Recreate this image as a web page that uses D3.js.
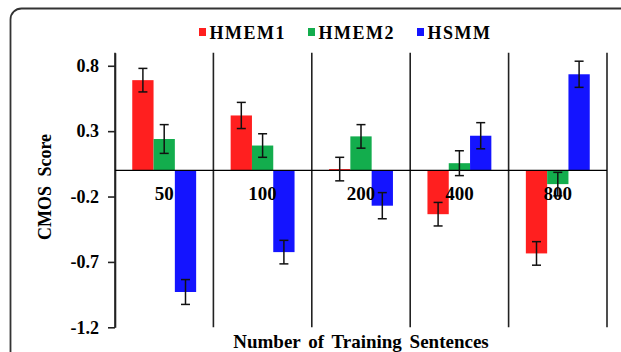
<!DOCTYPE html>
<html>
<head>
<meta charset="utf-8">
<script src="https://cdn.jsdelivr.net/npm/d3@7"></script>
<style>
  html, body { margin: 0; padding: 0; background: #fff; }
  svg { display: block; }
  text { font-family: "Liberation Serif", "Times New Roman", serif; font-weight: bold; fill: #000; }
</style>
</head>
<body>
<svg id="chart" width="621" height="352"></svg>
<script>
// Training-set sizes on the category axis
const categories = ["50", "100", "200", "400", "800"];
const seriesNames = ["HMEM1", "HMEM2", "HSMM"];
const seriesColors = ["#ff1f1f", "#13ad4d", "#1414ff"];

// Mean CMOS score for each system, per training-set size
const hmem1 = [0.69, 0.42, 0.01, -0.335, -0.635];
const hmem2 = [0.24, 0.19, 0.26, 0.055, -0.105];
const hsmm  = [-0.93, -0.625, -0.27, 0.265, 0.735];

// Half-width of the error bars
const hmem1Err = [0.09, 0.10, 0.09, 0.09, 0.09];
const hmem2Err = [0.11, 0.09, 0.09, 0.095, 0.09];
const hsmmErr  = [0.095, 0.09, 0.10, 0.10, 0.10];

const yTicks = [0.8, 0.3, -0.2, -0.7, -1.2];
const yDomain = [-1.2, 0.9];

const seriesValues = [hmem1, hmem2, hsmm];
const seriesErrors = [hmem1Err, hmem2Err, hsmmErr];

const svg = d3.select("#chart");
const plot = { left: 115, right: 607, top: 52.7, bottom: 327.3 };

// Outer rounded frame
svg.append("rect")
  .attr("x", 10.5).attr("y", 8.5)
  .attr("width", 660).attr("height", 400)
  .attr("rx", 11).attr("ry", 11)
  .attr("fill", "none").attr("stroke", "#333").attr("stroke-width", 1.8);

const x0 = d3.scaleBand().domain(categories).range([plot.left, plot.right]).padding(0);
const x1 = d3.scaleBand().domain(seriesNames).range([0, x0.bandwidth()])
  .paddingInner(0).paddingOuter(0.81);
const y = d3.scaleLinear().domain(yDomain).range([plot.bottom, plot.top]);

// Category separators
const bounds = categories.map(c => x0(c)).concat([plot.right]);
svg.append("g").selectAll("line").data(bounds).join("line")
  .attr("x1", d => d).attr("x2", d => d)
  .attr("y1", y(yDomain[1])).attr("y2", y(yDomain[0]))
  .attr("stroke", "#222").attr("stroke-width", 1.6);

// Y axis
const yAxis = d3.axisLeft(y)
  .tickValues(yTicks)
  .tickFormat(d => d3.format(".1f")(d).replace("\u2212", "-"))
  .tickSize(7).tickSizeOuter(0).tickPadding(9);
const gy = svg.append("g").attr("transform", `translate(${plot.left},0)`).call(yAxis);
gy.select(".domain").attr("stroke", "#222").attr("stroke-width", 1.6);
gy.selectAll(".tick line").attr("stroke", "#222").attr("stroke-width", 1.6);
gy.selectAll(".tick text")
  .style("font-family", "'Liberation Serif', 'Times New Roman', serif")
  .style("font-weight", "bold").style("font-size", "18px").attr("fill", "#000");

// Bars
const rows = [];
categories.forEach((c, i) => {
  seriesNames.forEach((s, j) => {
    rows.push({ cat: c, name: s, color: seriesColors[j], v: seriesValues[j][i], e: seriesErrors[j][i] });
  });
});

svg.append("g").selectAll("rect").data(rows).join("rect")
  .attr("x", d => x0(d.cat) + x1(d.name))
  .attr("width", x1.bandwidth())
  .attr("y", d => y(Math.max(0, d.v)))
  .attr("height", d => Math.abs(y(d.v) - y(0)))
  .attr("fill", d => d.color);

// Zero line
svg.append("line")
  .attr("x1", plot.left).attr("x2", plot.right)
  .attr("y1", y(0)).attr("y2", y(0))
  .attr("stroke", "#000").attr("stroke-width", 1.3);

// Error bars
const eb = svg.append("g").attr("stroke", "#111").attr("stroke-width", 1.5);
rows.forEach(d => {
  const cx = x0(d.cat) + x1(d.name) + x1.bandwidth() / 2;
  const top = y(d.v + d.e), bot = y(d.v - d.e);
  eb.append("line").attr("x1", cx).attr("x2", cx).attr("y1", top).attr("y2", bot);
  eb.append("line").attr("x1", cx - 4.5).attr("x2", cx + 4.5).attr("y1", top).attr("y2", top);
  eb.append("line").attr("x1", cx - 4.5).attr("x2", cx + 4.5).attr("y1", bot).attr("y2", bot);
});

// Category labels sit just below the zero line
svg.append("g").selectAll("text").data(categories).join("text")
  .attr("x", d => x0(d) + x0.bandwidth() / 2)
  .attr("y", y(0) + 29.5)
  .attr("text-anchor", "middle")
  .style("font-size", "19px")
  .text(d => d);

// Axis titles
svg.append("text")
  .attr("transform", `translate(51,187) rotate(-90)`)
  .attr("text-anchor", "middle")
  .style("font-size", "18px").style("word-spacing", "5px")
  .text("CMOS Score");

svg.append("text")
  .attr("x", (plot.left + plot.right) / 2).attr("y", 348)
  .attr("text-anchor", "middle")
  .style("font-size", "19px").style("word-spacing", "3px")
  .text("Number of Training Sentences");

// Legend
const legend = svg.append("g");
let lx = 199;
seriesNames.forEach((s, j) => {
  legend.append("rect").attr("x", lx).attr("y", 28).attr("width", 7).attr("height", 8)
    .attr("fill", seriesColors[j]);
  const t = legend.append("text").attr("x", lx + 10.5).attr("y", 38.5)
    .style("font-size", "18px").style("letter-spacing", "1.5px")
    .text(s);
  lx += 10.5 + t.node().getComputedTextLength() + 22;
});
</script>
</body>
</html>
